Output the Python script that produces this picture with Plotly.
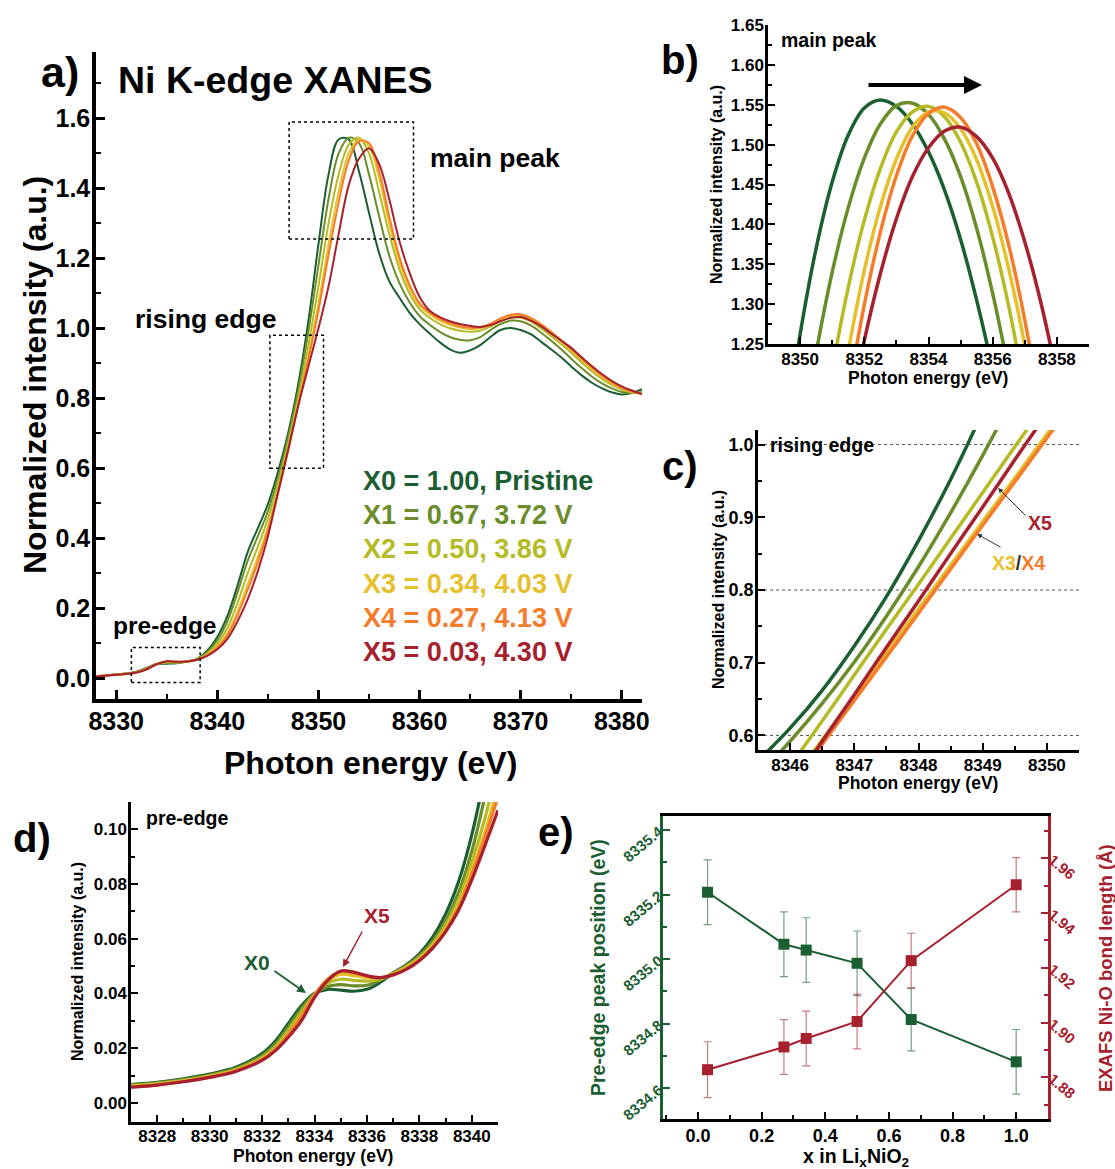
import plotly.graph_objects as go

W, H = 1115, 1169
FONT = "Liberation Sans, Arial, sans-serif"


def px(x):
    return x / W


def py(y):
    return 1 - y / H


# ---------------- series meta ----------------
NAMES = ["X0", "X1", "X2", "X3", "X4", "X5"]
COLORS = ["#1b5e32", "#6b8c2b", "#b4bb24", "#e6c02b", "#f47c2b", "#a6202e"]
LEGEND_TEXT = ["X0 = 1.00, Pristine", "X1 = 0.67, 3.72 V", "X2 = 0.50, 3.86 V",
               "X3 = 0.34, 4.03 V", "X4 = 0.27, 4.13 V", "X5 = 0.03, 4.30 V"]

# ---------------- panel a: full XANES ----------------
E_A = [8328, 8330, 8331, 8332, 8333, 8334, 8335, 8336, 8337, 8338, 8339, 8340,
       8341, 8342, 8343, 8344, 8345, 8346, 8347, 8348, 8349, 8350,
       8351, 8352, 8353, 8354, 8355, 8356, 8357, 8358, 8359, 8360,
       8361, 8362, 8363, 8364, 8365, 8366, 8367, 8368, 8369, 8370,
       8371, 8372, 8373, 8374, 8375, 8376, 8377, 8378, 8379, 8380, 8381, 8382]
A_X0 = [0.005, 0.010, 0.013, 0.018, 0.029, 0.040, 0.041, 0.042, 0.047, 0.055, 0.078, 0.118,
        0.178, 0.265, 0.360, 0.428, 0.497, 0.590, 0.700, 0.840, 1.020, 1.240,
        1.440, 1.540, 1.540, 1.450, 1.330, 1.215, 1.135, 1.088, 1.045, 1.012,
        0.985, 0.960, 0.940, 0.930, 0.937, 0.952, 0.975, 0.995, 1.001, 0.995,
        0.983, 0.962, 0.940, 0.917, 0.891, 0.866, 0.845, 0.829, 0.817, 0.811, 0.815, 0.826]
A_X1 = [0.005, 0.010, 0.0126, 0.0173, 0.0278, 0.040, 0.0432, 0.043, 0.0475, 0.054, 0.074, 0.108,
        0.163, 0.245, 0.335, 0.405, 0.476, 0.573, 0.688, 0.822, 0.990, 1.180,
        1.370, 1.500, 1.545, 1.530, 1.440, 1.320, 1.208, 1.130, 1.075, 1.035,
        1.010, 0.990, 0.975, 0.967, 0.966, 0.975, 0.995, 1.012, 1.022, 1.020,
        1.008, 0.988, 0.965, 0.940, 0.913, 0.887, 0.863, 0.843, 0.828, 0.818, 0.815, 0.818]
A_X2 = [0.005, 0.0099, 0.0122, 0.0166, 0.0265, 0.0398, 0.0452, 0.0445, 0.0472, 0.053, 0.070, 0.098,
        0.143, 0.215, 0.300, 0.375, 0.455, 0.555, 0.670, 0.800, 0.950, 1.120,
        1.300, 1.440, 1.525, 1.545, 1.500, 1.390, 1.270, 1.170, 1.100, 1.055,
        1.030, 1.012, 1.000, 0.993, 0.990, 0.993, 1.005, 1.020, 1.030, 1.030,
        1.020, 1.000, 0.978, 0.955, 0.930, 0.903, 0.878, 0.856, 0.838, 0.825, 0.817, 0.815]
A_X3 = [0.005, 0.0096, 0.0118, 0.016, 0.0255, 0.0398, 0.047, 0.0458, 0.047, 0.0525, 0.066, 0.090,
        0.128, 0.190, 0.268, 0.345, 0.432, 0.535, 0.655, 0.785, 0.920, 1.070,
        1.240, 1.390, 1.500, 1.540, 1.520, 1.430, 1.300, 1.190, 1.115, 1.065,
        1.040, 1.022, 1.010, 1.002, 0.998, 1.000, 1.010, 1.025, 1.036, 1.037,
        1.027, 1.008, 0.986, 0.962, 0.937, 0.910, 0.885, 0.862, 0.843, 0.828, 0.818, 0.813]
A_X4 = [0.005, 0.0094, 0.0117, 0.0158, 0.0252, 0.0402, 0.048, 0.0463, 0.0468, 0.0522, 0.065, 0.087,
        0.122, 0.180, 0.252, 0.330, 0.422, 0.528, 0.650, 0.780, 0.910, 1.050,
        1.210, 1.360, 1.480, 1.535, 1.530, 1.450, 1.320, 1.205, 1.125, 1.072,
        1.045, 1.027, 1.015, 1.006, 1.002, 1.003, 1.013, 1.028, 1.039, 1.040,
        1.030, 1.012, 0.990, 0.966, 0.941, 0.914, 0.889, 0.865, 0.846, 0.830, 0.819, 0.812]
A_X5 = [0.0045, 0.009, 0.0115, 0.0155, 0.0245, 0.0395, 0.048, 0.0465, 0.047, 0.052, 0.063, 0.082,
        0.112, 0.162, 0.225, 0.305, 0.405, 0.530, 0.652, 0.778, 0.890, 1.000,
        1.120, 1.270, 1.410, 1.485, 1.515, 1.470, 1.370, 1.250, 1.160, 1.090,
        1.050, 1.032, 1.020, 1.012, 1.007, 1.004, 1.009, 1.020, 1.030, 1.032,
        1.022, 1.006, 0.985, 0.965, 0.944, 0.918, 0.893, 0.870, 0.850, 0.834, 0.822, 0.812]

# ---------------- panel b: main peak ----------------
E_B = [8349.5, 8350, 8350.5, 8351, 8351.5, 8352, 8352.5, 8353, 8353.5, 8354,
       8354.5, 8355, 8355.5, 8356, 8356.5, 8357, 8357.5, 8358, 8358.5]
B_X0 = [1.130, 1.262, 1.370, 1.453, 1.512, 1.546, 1.556, 1.548, 1.526, 1.491,
        1.443, 1.381, 1.305, 1.217, 1.115, 1.000, 0.870, 0.740, 0.610]
B_X1 = [0.979, 1.119, 1.239, 1.340, 1.421, 1.483, 1.526, 1.549, 1.552, 1.538,
        1.507, 1.460, 1.395, 1.313, 1.215, 1.099, 0.970, 0.840, 0.710]
B_X2 = [0.800, 0.950, 1.093, 1.217, 1.321, 1.405, 1.470, 1.516, 1.541, 1.548,
        1.535, 1.503, 1.453, 1.384, 1.297, 1.190, 1.065, 0.930, 0.790]
B_X3 = [0.680, 0.830, 0.978, 1.120, 1.241, 1.342, 1.422, 1.482, 1.522, 1.541,
        1.540, 1.520, 1.481, 1.422, 1.344, 1.248, 1.132, 0.997, 0.850]
B_X4 = [0.600, 0.750, 0.899, 1.053, 1.186, 1.299, 1.390, 1.461, 1.511, 1.539,
        1.547, 1.534, 1.501, 1.447, 1.374, 1.280, 1.166, 1.032, 0.890]
B_X5 = [0.620, 0.760, 0.900, 1.036, 1.153, 1.254, 1.338, 1.407, 1.460, 1.496,
        1.517, 1.522, 1.510, 1.483, 1.439, 1.378, 1.302, 1.209, 1.100]

# ---------------- panel c: rising edge ----------------
E_C = [8345.5, 8346, 8346.5, 8347, 8347.5, 8348, 8348.5, 8349, 8349.5, 8350, 8350.5]
C_X0 = [0.565, 0.610, 0.662, 0.723, 0.791, 0.868, 0.952, 1.045, 1.145, 1.253, 1.370]
C_X1 = [0.545, 0.592, 0.644, 0.701, 0.764, 0.832, 0.906, 0.985, 1.069, 1.159, 1.255]
C_X2 = [0.495, 0.558, 0.620, 0.683, 0.746, 0.808, 0.871, 0.934, 0.997, 1.059, 1.122]
C_X3 = [0.474, 0.534, 0.594, 0.654, 0.714, 0.774, 0.834, 0.894, 0.954, 1.014, 1.074]
C_X4 = [0.467, 0.527, 0.588, 0.648, 0.708, 0.768, 0.829, 0.889, 0.949, 1.009, 1.070]
C_X5 = [0.463, 0.527, 0.592, 0.656, 0.721, 0.785, 0.850, 0.914, 0.979, 1.043, 1.108]

# ---------------- panel d: pre-edge ----------------
E_D = [8327, 8328, 8329, 8330, 8331, 8332, 8332.5, 8333, 8333.5, 8334, 8334.5, 8335,
       8335.5, 8336, 8336.5, 8337, 8337.5, 8338, 8338.5, 8339, 8339.5, 8340, 8340.5, 8341]
D_X0 = [0.0067, 0.0075, 0.0088, 0.0105, 0.0130, 0.0180, 0.0225, 0.0290, 0.0355, 0.0400, 0.0415, 0.0412,
        0.0408, 0.0415, 0.0440, 0.0475, 0.0505, 0.0545, 0.0605, 0.0690, 0.0810, 0.0980, 0.1200, 0.1450]
D_X1 = [0.0065, 0.0073, 0.0085, 0.0102, 0.0126, 0.0173, 0.0215, 0.0278, 0.0345, 0.0398, 0.0425, 0.0432,
        0.0428, 0.0430, 0.0448, 0.0475, 0.0502, 0.0538, 0.0590, 0.0665, 0.0770, 0.0920, 0.1120, 0.1350]
D_X2 = [0.0062, 0.0070, 0.0082, 0.0099, 0.0122, 0.0166, 0.0205, 0.0265, 0.0332, 0.0395, 0.0437, 0.0452,
        0.0448, 0.0445, 0.0452, 0.0472, 0.0498, 0.0532, 0.0580, 0.0650, 0.0745, 0.0880, 0.1040, 0.1240]
D_X3 = [0.0060, 0.0068, 0.0080, 0.0096, 0.0118, 0.0160, 0.0197, 0.0252, 0.0318, 0.0392, 0.0445, 0.0470,
        0.0465, 0.0458, 0.0457, 0.0470, 0.0492, 0.0525, 0.0572, 0.0637, 0.0725, 0.0850, 0.0990, 0.1160]
D_X4 = [0.0058, 0.0066, 0.0078, 0.0094, 0.0117, 0.0158, 0.0195, 0.0250, 0.0315, 0.0394, 0.0452, 0.0480,
        0.0475, 0.0463, 0.0457, 0.0468, 0.0490, 0.0522, 0.0568, 0.0630, 0.0715, 0.0835, 0.0970, 0.1120]
D_X5 = [0.0057, 0.0065, 0.0077, 0.0093, 0.0115, 0.0155, 0.0190, 0.0240, 0.0300, 0.0385, 0.0447, 0.0482,
        0.0478, 0.0465, 0.0458, 0.0468, 0.0488, 0.0520, 0.0565, 0.0625, 0.0705, 0.0815, 0.0940, 0.1070]

# ---------------- panel e ----------------
X_LI = [0.03, 0.27, 0.34, 0.50, 0.67, 1.00]
PRE_EDGE = [8335.207, 8335.046, 8335.028, 8334.987, 8334.813, 8334.682]
PRE_ERR = [0.10, 0.10, 0.10, 0.10, 0.097, 0.10]
BOND = [1.8828, 1.8911, 1.8942, 1.9004, 1.9226, 1.9503]
BOND_ERR = [0.0102, 0.010, 0.010, 0.010, 0.010, 0.0099]
GREEN_E = "#1b5e32"
RED_E = "#a6202e"

A_SETS = [A_X0, A_X1, A_X2, A_X3, A_X4, A_X5]
B_SETS = [B_X0, B_X1, B_X2, B_X3, B_X4, B_X5]
C_SETS = [C_X0, C_X1, C_X2, C_X3, C_X4, C_X5]
D_SETS = [D_X0, D_X1, D_X2, D_X3, D_X4, D_X5]

fig = go.Figure()

for sets, E, xa, ya, lw in [(A_SETS, E_A, "x", "y", 2.0), (B_SETS, E_B, "x2", "y2", 3.5),
                             (C_SETS, E_C, "x3", "y3", 3.5), (D_SETS, E_D, "x4", "y4", 3.2)]:
    for name, col, vals in zip(NAMES, COLORS, sets):
        fig.add_trace(go.Scatter(x=E, y=vals, mode="lines", name=name, xaxis=xa, yaxis=ya,
                                 line=dict(color=col, width=lw, shape="spline", smoothing=1.0),
                                 showlegend=False, hoverinfo="skip"))

fig.add_trace(go.Scatter(x=X_LI, y=PRE_EDGE, mode="lines+markers", xaxis="x5", yaxis="y5",
                         line=dict(color=GREEN_E, width=2),
                         marker=dict(symbol="square", size=11, color=GREEN_E),
                         error_y=dict(type="data", array=PRE_ERR, color="rgba(27,94,50,0.6)",
                                      thickness=1.2, width=4),
                         showlegend=False))
fig.add_trace(go.Scatter(x=X_LI, y=BOND, mode="lines+markers", xaxis="x5", yaxis="y6",
                         line=dict(color=RED_E, width=2),
                         marker=dict(symbol="square", size=11, color=RED_E),
                         error_y=dict(type="data", array=BOND_ERR, color="rgba(166,32,46,0.6)",
                                      thickness=1.2, width=4),
                         showlegend=False))


def axis(domain, rng, tick0, dtick, mdtick, fsize, lw=2.5, tl=7, fmt=None, color="black",
         anchor=None, standoff=-2, **kw):
    d = dict(domain=domain, range=rng, tick0=tick0, dtick=dtick, showline=True,
             linecolor=color, linewidth=lw, ticks="inside", ticklen=tl, tickwidth=lw * 0.8,
             tickcolor=color, showgrid=False, zeroline=False, automargin=False,
             tickfont=dict(family=FONT, size=fsize, color=color, weight="bold"),
             minor=dict(dtick=mdtick, ticks="inside", ticklen=tl * 0.55, tickwidth=lw * 0.7,
                        tickcolor=color, showgrid=False),
             ticklabelstandoff=standoff)
    if fmt:
        d["tickformat"] = fmt
    if anchor:
        d["anchor"] = anchor
    d.update(kw)
    return d


layout = dict(
    width=W, height=H, margin=dict(l=0, r=0, t=0, b=0, autoexpand=False),
    paper_bgcolor="white", plot_bgcolor="white", showlegend=False,
    font=dict(family=FONT, color="black"),
    xaxis=axis([px(96), px(642)], [8328, 8382], 8330, 10, 5, 25, lw=3.5, tl=9, anchor="y",
               standoff=-3),
    yaxis=axis([py(699), py(52)], [-0.06, 1.79], 0, 0.2, 0.1, 25, lw=3.5, tl=9, fmt=".1f",
               anchor="x", standoff=-3),
    xaxis2=axis([px(768), px(1089)], [8349, 8359], 8350, 2, 1, 17, anchor="y2"),
    yaxis2=axis([py(344), py(25)], [1.2499, 1.6501], 1.25, 0.05, 0.025, 17, fmt=".2f", anchor="x2"),
    xaxis3=axis([px(758), px(1079)], [8345.5, 8350.5], 8346, 1, 0.5, 17, anchor="y3"),
    yaxis3=axis([py(750), py(430)], [0.58, 1.02], 0.6, 0.1, 0.05, 18, fmt=".1f", anchor="x3"),
    xaxis4=axis([px(131), px(498)], [8327, 8341], 8328, 2, 1, 17, anchor="y4", standoff=-3),
    yaxis4=axis([py(1122), py(802)], [-0.007, 0.11], 0, 0.02, 0.01, 17, fmt=".2f", anchor="x4"),
    xaxis5=axis([px(663), px(1048)], [-0.11, 1.10], 0, 0.2, 0.1, 18, lw=3, fmt=".1f",
                anchor="y5", mirror=True),
    yaxis5=axis([py(1119), py(816)], [8334.505, 8335.443], 8334.6, 0.2, 0.1, 15, lw=3,
                fmt=".1f", color=GREEN_E, anchor="x5", tickangle=-40),
    yaxis6=axis([py(1119), py(816)], [1.8648, 1.9754], 1.88, 0.02, 0.01, 15, lw=3,
                fmt=".2f", color=RED_E, anchor="x5", overlaying="y5", side="right", tickangle=40),
)
fig.update_layout(**layout)

# ---------------- shapes ----------------
shapes = []
for (x0, x1, y0, y1) in [(8347.1, 8359.4, 1.255, 1.59), (8345.2, 8350.5, 0.6, 0.98),
                         (8331.5, 8338.3, -0.013, 0.087)]:
    shapes.append(dict(type="rect", xref="x", yref="y", x0=x0, x1=x1, y0=y0, y1=y1,
                       line=dict(color="black", width=1.5, dash="dot")))
for yv in [0.6, 0.8, 1.0]:
    shapes.append(dict(type="line", xref="x3 domain", yref="y3", x0=0, x1=1, y0=yv, y1=yv,
                       line=dict(color="#555", width=1, dash="dot"), layer="below"))
fig.update_layout(shapes=shapes)

# ---------------- annotations ----------------
ann = []


def txt(text, x, y, size, color="black", xanchor="center", angle=0, bold=True):
    ann.append(dict(text=text, x=px(x), y=py(y), xref="paper", yref="paper", showarrow=False,
                    xanchor=xanchor, yanchor="middle", textangle=angle,
                    font=dict(family=FONT, size=size, color=color,
                              weight="bold" if bold else "normal")))


# panel letters
txt("a)", 60, 72, 43)
txt("b)", 680, 60, 40)
txt("c)", 680, 466, 40)
txt("d)", 32, 838, 40)
txt("e)", 556, 832, 40)

# panel a
txt("Ni K-edge XANES", 116, 80, 37.5, xanchor="left")
txt("main peak", 428, 158, 26.5, xanchor="left")
txt("rising edge", 133, 319, 26.5, xanchor="left")
txt("pre-edge", 111, 625, 24.5, xanchor="left")
for i, (t, c) in enumerate(zip(LEGEND_TEXT, COLORS)):
    txt(t, 361, 481 + i * 34.2, 27, color=c, xanchor="left")
txt("Photon energy (eV)", 370, 763, 32)
txt("Normalized intensity (a.u.)", 35, 375, 32, angle=-90)

# panel b
txt("main peak", 779, 40, 19.5, xanchor="left")
txt("Photon energy (eV)", 928, 378, 17.5)
txt("Normalized intensity (a.u.)", 717, 185, 16, angle=-90)
ann.append(dict(x=px(982), y=py(85), xref="paper", yref="paper", ax=-115, ay=0,
                showarrow=True, arrowhead=2, arrowsize=0.9, arrowwidth=4, arrowcolor="black",
                text=""))

# panel c
txt("rising edge", 768, 445, 19.5, xanchor="left")
txt("Photon energy (eV)", 918, 783, 17.5)
txt("Normalized intensity (a.u.)", 718, 590, 16, angle=-90)
txt("X5", 1040, 523, 19.5, color=COLORS[5])
txt("<span style='color:%s'>X3</span><span style='color:#333'>/</span>"
    "<span style='color:%s'>X4</span>" % (COLORS[3], COLORS[4]), 1018, 563, 19.5)
ann.append(dict(x=px(998), y=py(488), xref="paper", yref="paper", ax=29, ay=29,
                showarrow=True, arrowhead=2, arrowsize=1, arrowwidth=1, arrowcolor="#333", text=""))
ann.append(dict(x=px(977), y=py(534), xref="paper", yref="paper", ax=25, ay=14,
                showarrow=True, arrowhead=2, arrowsize=1, arrowwidth=1, arrowcolor="#333", text=""))

# panel d
txt("pre-edge", 144, 818, 19.5, xanchor="left")
txt("Photon energy (eV)", 313, 1156, 17.5)
txt("Normalized intensity (a.u.)", 77, 962, 16, angle=-90)
txt("X0", 257, 962, 21, color=COLORS[0])
txt("X5", 377, 915, 21, color=COLORS[5])
ann.append(dict(x=px(306), y=py(993), xref="paper", yref="paper", ax=-33, ay=-23,
                showarrow=True, arrowhead=2, arrowsize=1, arrowwidth=1.8, arrowcolor=COLORS[0],
                text=""))
ann.append(dict(x=px(343), y=py(967), xref="paper", yref="paper", ax=20, ay=-37,
                showarrow=True, arrowhead=2, arrowsize=1, arrowwidth=1.5, arrowcolor=COLORS[5],
                text=""))

# panel e
txt("x in Li<sub>x</sub>NiO<sub>2</sub>", 856, 1157, 19.5)
txt("Pre-edge peak position (eV)", 598, 968, 19.5, color=GREEN_E, angle=-90)
txt("EXAFS Ni-O bond length (Å)", 1105, 968, 18.5, color=RED_E, angle=-90)

fig.update_layout(annotations=ann)

fig.write_html("out.html")
